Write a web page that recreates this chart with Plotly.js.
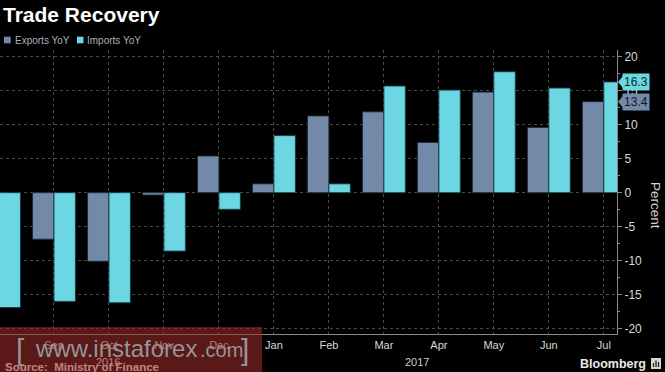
<!DOCTYPE html>
<html>
<head>
<meta charset="utf-8">
<script src="https://cdn.plot.ly/plotly-3.0.1.min.js"></script>
<style>html,body{margin:0;padding:0;background:#000;}#chart{width:665px;height:372px;}</style>
</head>
<body>
<div id="chart"></div>
<script>
const months = ['Aug','Sep','Oct','Nov','Dec','Jan','Feb','Mar','Apr','May','Jun','Jul'];
const exportsYoY = [null, -6.85, -10.1, -0.35, 5.4, 1.3, 11.3, 11.9, 7.4, 14.8, 9.6, 13.4];
const importsYoY = [-16.9, -16.0, -16.2, -8.6, -2.45, 8.4, 1.3, 15.7, 15.1, 17.8, 15.4, 16.3];
const seriesNames = ['Exports YoY', 'Imports YoY'];
const yTicks = [-20, -15, -10, -5, 0, 5, 10, 15, 20];
const yTickText = ['-20', '-15', '-10', '-5', '0', '5', '10', '15', '20'];
const years = ['2016', '2017'];
const yearPos = [1.98, 7.6];
const lastExports = '13.4';
const lastImports = '16.3';

const cExp = '#7289a8';
const cImp = '#6cd7e2';
const FONT = 'Liberation Sans, Arial, sans-serif';

const W = 617, T = 50, B = 334, H = B - T;
const px = v => v / W;
const py = v => (B - v) / H;

const traces = [
  {type: 'bar', name: seriesNames[0], x: months, y: exportsYoY,
   marker: {color: cExp, line: {color: 'rgba(30,40,55,0.9)', width: 1}}, showlegend: false, hoverinfo: 'skip'},
  {type: 'bar', name: seriesNames[1], x: months, y: importsYoY,
   marker: {color: cImp, line: {color: 'rgba(20,60,70,0.9)', width: 1}}, showlegend: false, hoverinfo: 'skip'}
];

const annotations = [
  {xref: 'paper', yref: 'paper', x: px(13.3), y: py(40), xanchor: 'left', yanchor: 'middle', showarrow: false,
   text: seriesNames[0], font: {family: FONT, size: 10, color: '#aab0ba'}},
  {xref: 'paper', yref: 'paper', x: px(85.3), y: py(40), xanchor: 'left', yanchor: 'middle', showarrow: false,
   text: seriesNames[1], font: {family: FONT, size: 10, color: '#aab0ba'}},
  {xref: 'paper', yref: 'y', x: 1, xshift: 5, y: Number(lastImports), xanchor: 'left', yanchor: 'middle', showarrow: false,
   text: lastImports, bgcolor: cImp, borderpad: 1, font: {family: FONT, size: 12, color: '#0b2a30'}},
  {xref: 'paper', yref: 'y', x: 1, xshift: 5, y: Number(lastExports), xanchor: 'left', yanchor: 'middle', showarrow: false,
   text: lastExports, bgcolor: cExp, borderpad: 1, font: {family: FONT, size: 12, color: '#10161e'}},
  {xref: 'paper', yref: 'paper', x: px(656), y: py(205), xanchor: 'center', yanchor: 'middle', showarrow: false,
   text: 'Percent', textangle: 90, font: {family: FONT, size: 13.5, color: '#d0d0d0'}},
  {xref: 'x', yref: 'paper', x: yearPos[0], y: py(361.5), xanchor: 'center', yanchor: 'middle', showarrow: false,
   text: years[0], font: {family: FONT, size: 11, color: '#e0e0e0'}},
  {xref: 'x', yref: 'paper', x: yearPos[1], y: py(361.5), xanchor: 'center', yanchor: 'middle', showarrow: false,
   text: years[1], font: {family: FONT, size: 11, color: '#cfcfcf'}},
  {xref: 'paper', yref: 'paper', x: px(3), y: py(367), xanchor: 'left', yanchor: 'middle', showarrow: false,
   text: '<b>Source:  Ministry of Finance</b>', font: {family: FONT, size: 11.5, color: '#f0f0f0'}},
  // watermark overlay
  {xref: 'paper', yref: 'paper', x: 0, y: py(327), xanchor: 'left', yanchor: 'top', showarrow: false,
   text: ' ', width: 262, height: 46, borderpad: 0, borderwidth: 0, bgcolor: 'rgba(160,42,42,0.56)'},
  {xref: 'paper', yref: 'paper', x: px(14), y: py(349), xanchor: 'left', yanchor: 'middle', showarrow: false,
   text: '[', font: {family: FONT, size: 30, color: '#959595'}},
  {xref: 'paper', yref: 'paper', x: px(33), y: py(348), xanchor: 'left', yanchor: 'middle', showarrow: false,
   text: 'www.instaforex', font: {family: FONT, size: 24, color: '#959595'}},
  {xref: 'paper', yref: 'paper', x: px(198), y: py(350), xanchor: 'left', yanchor: 'middle', showarrow: false,
   text: '.com', font: {family: FONT, size: 20, color: '#959595'}},
  {xref: 'paper', yref: 'paper', x: px(239), y: py(349), xanchor: 'left', yanchor: 'middle', showarrow: false,
   text: ']', font: {family: FONT, size: 30, color: '#959595'}},
  {xref: 'paper', yref: 'paper', x: px(648), y: py(364), xanchor: 'right', yanchor: 'middle', showarrow: false,
   text: '<b>Bloomberg</b>', font: {family: FONT, size: 12.5, color: '#e8e8e8'}}
];

const shapes = [
  {type: 'rect', xref: 'paper', yref: 'paper', x0: px(4), x1: px(10.7), y0: py(43.3), y1: py(36.7),
   fillcolor: cExp, line: {width: 0}},
  {type: 'rect', xref: 'paper', yref: 'paper', x0: px(77), x1: px(83.5), y0: py(43.3), y1: py(36.7),
   fillcolor: cImp, line: {width: 0}},
  {type: 'path', xref: 'paper', yref: 'y', xsizemode: 'pixel', ysizemode: 'pixel', xanchor: 1, yanchor: Number(lastImports),
   path: 'M 1 0 L 6 6 L 6 -6 Z', fillcolor: cImp, line: {width: 0}},
  {type: 'path', xref: 'paper', yref: 'y', xsizemode: 'pixel', ysizemode: 'pixel', xanchor: 1, yanchor: Number(lastExports),
   path: 'M 1 0 L 6 6 L 6 -6 Z', fillcolor: cExp, line: {width: 0}},
  {type: 'rect', xref: 'paper', yref: 'paper', x0: px(651), x1: px(661), y0: py(369), y1: py(358),
   fillcolor: '#d8d8d8', line: {width: 0}},
  {type: 'path', xref: 'paper', yref: 'paper',
   path: 'M ' + px(653.5) + ',' + py(367) + ' L ' + px(653.5) + ',' + py(363) +
         ' M ' + px(656) + ',' + py(367) + ' L ' + px(656) + ',' + py(360.5) +
         ' M ' + px(658.5) + ',' + py(367) + ' L ' + px(658.5) + ',' + py(362),
   line: {color: '#222', width: 1.3}}
];

const layout = {
  width: 665, height: 372,
  margin: {l: 0, r: 48, t: 50, b: 38, pad: 0},
  paper_bgcolor: '#000', plot_bgcolor: '#000',
  barmode: 'group', bargap: 0.22, bargroupgap: 0,
  title: {text: '<b>Trade Recovery</b>', x: 3 / 665, xanchor: 'left', xref: 'container',
          y: 1 - 15 / 372, yanchor: 'middle', yref: 'container',
          font: {family: FONT, size: 21, color: '#ffffff'}},
  showlegend: false,
  xaxis: {type: 'category', categoryorder: 'array', categoryarray: months,
          range: [0.018, 11.24], showgrid: true, gridcolor: '#4a4a4a', griddash: 'dot', gridwidth: 1,
          showline: true, linecolor: '#8a8a8a', linewidth: 1, ticks: 'outside', ticklen: 1, tickcolor: '#000', zeroline: false,
          tickfont: {family: FONT, size: 11, color: '#d8d8d8'}, fixedrange: true},
  yaxis: {side: 'right', range: [-20.8, 21.0], tickvals: yTicks, ticktext: yTickText,
          showgrid: true, gridcolor: '#4a4a4a', griddash: 'dot', gridwidth: 1, zeroline: false,
          showline: true, linecolor: '#8a8a8a', linewidth: 1,
          ticks: 'outside', ticklen: 4, tickcolor: '#8a8a8a', tickwidth: 1,
          minor: {dtick: 2.5, tick0: 0, ticks: 'outside', ticklen: 2, tickcolor: '#8a8a8a', showgrid: false},
          tickfont: {family: FONT, size: 12, color: '#d8d8d8'}, fixedrange: true},
  annotations: annotations,
  shapes: shapes
};

Plotly.newPlot('chart', traces, layout, {displayModeBar: false, staticPlot: true});
</script>
</body>
</html>
